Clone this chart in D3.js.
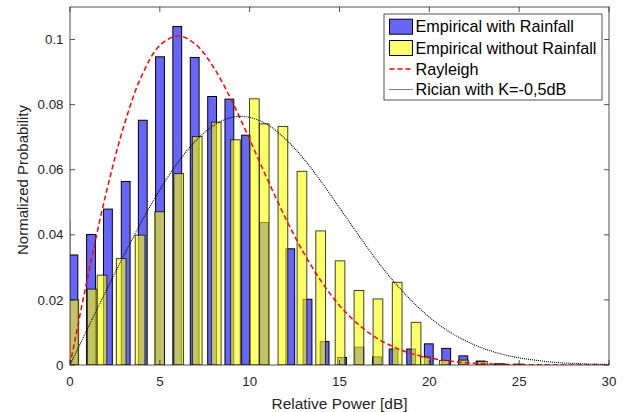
<html>
<head>
  <title>Histogram</title>
  <script src="https://d3js.org/d3.v7.min.js"></script>
  <style>
    body { margin: 0; background: #fff; }
    text { font-family: "Liberation Sans", Arial, sans-serif; fill: #262626; }
  </style>
</head>
<body>
<svg id="chart" width="627" height="412"></svg>
<script>
  // data
  var blueX = [-0.26, 0.19, 1.17, 2.11, 3.10, 4.05, 5.01, 5.97, 6.94, 7.91, 8.87, 9.80, 10.80,
    12.26, 13.22, 14.17, 15.14, 16.10, 17.09, 18.01, 18.99, 19.97, 20.94, 21.89, 22.85, 23.86]
  var blueY = [0.044, 0.0338, 0.0401, 0.0479, 0.0564, 0.0752, 0.0947, 0.1040, 0.0945, 0.0825, 0.0817, 0.0706, 0.0438,
    0.0357, 0.0202, 0.0072, 0.0023, 0.0055, 0.0025, 0.0049, 0.0049, 0.0065, 0.0051, 0.0028, 0.0012, 0.0003]
  var yellowX = [0.21, 1.23, 1.78, 2.85, 3.90, 4.99, 6.05, 7.08, 8.14, 9.21, 10.26, 10.81, 11.85,
    12.91, 13.95, 15.03, 16.08, 17.14, 18.21, 19.26, 19.78, 20.83, 21.90, 22.96, 23.95, 25.0]
  var yellowY = [0.0200, 0.0233, 0.0276, 0.0327, 0.0399, 0.0471, 0.0588, 0.0702, 0.0746, 0.0692, 0.0818, 0.0741, 0.0733,
    0.0595, 0.0412, 0.0320, 0.0229, 0.0203, 0.0254, 0.0131, 0.0025, 0.0014, 0.0015, 0.0011, 0.0004, 0.0003]
  var curveX = [0, 1, 2, 3, 4, 5, 6, 7, 8, 9, 10, 11, 12, 13, 14, 15,
    16, 17, 18, 19, 20, 21, 22, 23, 24, 25, 26, 27, 28, 29, 30]
  var rayleighY = [0, 0.0274, 0.0526, 0.0735, 0.0890, 0.0982, 0.1011, 0.0985, 0.0914, 0.0812, 0.0693, 0.0569, 0.0451, 0.0345, 0.0256, 0.0183,
    0.0127, 0.0085, 0.0056, 0.0035, 0.0022, 0.0013, 0.0007, 0.0004, 0.0002, 0.0001, 0.00006, 0.00003, 0.00001, 0, 0]
  var ricianY = [0, 0.0114, 0.0227, 0.0337, 0.0442, 0.0538, 0.0622, 0.0689, 0.0736, 0.0761, 0.0761, 0.0738, 0.0694, 0.0634, 0.0562, 0.0483,
    0.0404, 0.0327, 0.0258, 0.0198, 0.0147, 0.0106, 0.0075, 0.0051, 0.0034, 0.0022, 0.0014, 0.0008, 0.0005, 0.0003, 0.0002]
  var xTicks = [0, 5, 10, 15, 20, 25, 30]
  var yTicks = [0, 0.02, 0.04, 0.06, 0.08, 0.1]
  var yTickLabels = ['0', '0.02', '0.04', '0.06', '0.08', '0.1']
  var legendNames = ['Empirical with Rainfall', 'Empirical without Rainfall', 'Rayleigh', 'Rician with K=-0,5dB']

  var margin = { top: 7, right: 18, bottom: 47, left: 70 }
  var w = 627 - margin.left - margin.right
  var h = 412 - margin.top - margin.bottom
  var axisColor = '#262626'

  var svg = d3.select('#chart')
  var g = svg.append('g')
      .attr('transform', 'translate(' + margin.left + ',' + margin.top + ')')

  // scales
  var xScale = d3.scaleLinear().domain([0, 30]).range([0, w])
  var yScale = d3.scaleLinear().domain([0, 0.11]).range([h, 0])

  g.append('clipPath').attr('id', 'clip')
    .append('rect').attr('width', w).attr('height', h)
  var plot = g.append('g').attr('clip-path', 'url(#clip)')

  // bars
  function drawBars(xs, ys, width, fill, op, edgeOp) {
    plot.append('g').selectAll('rect')
        .data(xs)
        .enter()
      .append('rect')
        .attr('x', function (d) { return xScale(d - width / 2) })
        .attr('width', xScale(width) - xScale(0))
        .attr('y', function (d, i) { return yScale(ys[i]) })
        .attr('height', function (d, i) { return yScale(0) - yScale(ys[i]) })
        .attr('fill', fill)
        .attr('fill-opacity', op)
        .attr('stroke', '#000')
        .attr('stroke-opacity', edgeOp)
        .attr('stroke-width', 1)
  }
  drawBars(blueX, blueY, 0.49, '#0000ff', 0.6, 1)
  drawBars(yellowX, yellowY, 0.54, '#ffff00', 0.6, 0.75)

  // curves
  var line = function (ys) {
    return d3.line()
      .x(function (d) { return xScale(d) })
      .y(function (d, i) { return yScale(ys[i]) })
      .curve(d3.curveCatmullRom)(curveX)
  }
  plot.append('path')
      .attr('d', line(rayleighY))
      .attr('fill', 'none')
      .attr('stroke', '#ff0000')
      .attr('stroke-width', 1.5)
      .attr('stroke-dasharray', '5,3')
  plot.append('path')
      .attr('d', line(ricianY))
      .attr('fill', 'none')
      .attr('stroke', '#000')
      .attr('stroke-width', 1.1)
      .attr('stroke-dasharray', '1,1')

  // box and ticks (inward, all four sides)
  g.append('rect')
      .attr('width', w).attr('height', h)
      .attr('fill', 'none').attr('stroke', axisColor).attr('stroke-width', 0.8)
  var tl = 5
  xTicks.forEach(function (t) {
    g.append('line').attr('x1', xScale(t)).attr('x2', xScale(t)).attr('y1', h).attr('y2', h - tl)
      .attr('stroke', axisColor).attr('stroke-width', 0.8)
    g.append('line').attr('x1', xScale(t)).attr('x2', xScale(t)).attr('y1', 0).attr('y2', tl)
      .attr('stroke', axisColor).attr('stroke-width', 0.8)
    g.append('text')
        .attr('x', xScale(t)).attr('y', h + 16)
        .attr('dy', '0.35em')
        .style('text-anchor', 'middle')
        .style('font-size', '13.3px')
        .text(t)
  })
  yTicks.forEach(function (t, i) {
    g.append('line').attr('x1', 0).attr('x2', tl).attr('y1', yScale(t)).attr('y2', yScale(t))
      .attr('stroke', axisColor).attr('stroke-width', 0.8)
    g.append('line').attr('x1', w).attr('x2', w - tl).attr('y1', yScale(t)).attr('y2', yScale(t))
      .attr('stroke', axisColor).attr('stroke-width', 0.8)
    g.append('text')
        .attr('x', -6.5).attr('y', yScale(t))
        .attr('dy', '0.35em')
        .style('text-anchor', 'end')
        .style('font-size', '13.3px')
        .text(yTickLabels[i])
  })

  // axis labels
  g.append('text')
      .attr('x', w / 2).attr('y', h + 39)
      .attr('dy', '0.35em')
      .style('text-anchor', 'middle')
      .style('font-size', '15.5px')
      .text('Relative Power [dB]')
  g.append('text')
      .attr('transform', 'translate(' + (22.7 - margin.left) + ',' + (180 - margin.top) + ') rotate(-90)')
      .attr('dy', '0.35em')
      .style('text-anchor', 'middle')
      .style('font-size', '15px')
      .text('Normalized Probability')

  // legend
  var lg = svg.append('g').attr('transform', 'translate(384,14)')
  lg.append('rect')
      .attr('width', 218).attr('height', 86)
      .attr('fill', '#fff').attr('stroke', axisColor).attr('stroke-width', 0.8)
  var rowY = [12.7, 34, 55, 75.5]
  lg.append('rect').attr('x', 5.5).attr('y', rowY[0] - 7.5).attr('width', 23).attr('height', 15)
    .attr('fill', '#0000ff').attr('fill-opacity', 0.6).attr('stroke', '#000')
  lg.append('rect').attr('x', 5.5).attr('y', rowY[1] - 7.5).attr('width', 23).attr('height', 15)
    .attr('fill', '#ffff00').attr('fill-opacity', 0.6).attr('stroke', '#000')
  lg.append('line').attr('x1', 5.5).attr('x2', 28.5).attr('y1', rowY[2]).attr('y2', rowY[2])
    .attr('stroke', '#ff0000').attr('stroke-width', 1.5).attr('stroke-dasharray', '5,3')
  lg.append('line').attr('x1', 5.5).attr('x2', 28.5).attr('y1', rowY[3]).attr('y2', rowY[3])
    .attr('stroke', '#000').attr('stroke-width', 1.1).attr('stroke-dasharray', '1,1')
  legendNames.forEach(function (name, i) {
    lg.append('text')
        .attr('x', 31.5).attr('y', rowY[i])
        .attr('dy', '0.35em')
        .style('font-size', '16.2px')
        .style('fill', '#000')
        .text(name)
  })
</script>
</body>
</html>
